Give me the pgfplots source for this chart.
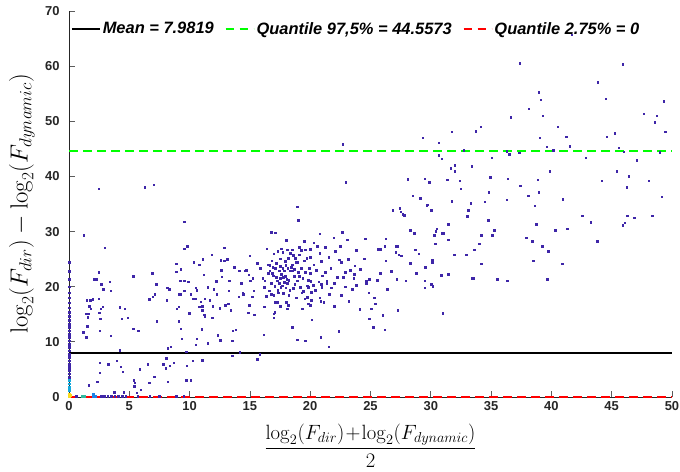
\documentclass[border=0pt]{standalone}
\usepackage[no-math]{fontspec}
\usepackage{amsmath}
\usepackage{pgfplots}
\pgfplotsset{compat=1.18}
\newfontfamily\hv{Liberation Sans}
\definecolor{pts}{RGB}{62,38,168}
\definecolor{axc}{RGB}{38,38,38}
\definecolor{grn}{RGB}{0,255,0}
\definecolor{rd}{RGB}{255,0,0}
\definecolor{pyel}{RGB}{249,220,30}
\definecolor{pcy}{RGB}{20,170,220}
\definecolor{pteal}{RGB}{50,185,160}
\definecolor{plb}{RGB}{30,130,230}
\begin{document}
\begin{tikzpicture}
\path[use as bounding box] (-69bp,-75bp) rectangle (611bp,397bp);
\begin{axis}[
  at={(0,0)}, anchor=south west,
  scale only axis, width=603bp, height=386bp,
  xmin=0, xmax=50, ymin=0, ymax=70,
  clip=false,
  axis x line=bottom, axis y line=left,
  axis line style={-, draw=axc, line width=0.8bp},
  tick style={draw=axc!75, line width=0.8bp},
  major tick length=6bp, tick align=inside,
  xtick={0,5,...,50}, ytick={0,10,...,70},
  /pgf/number format/assume math mode=true,
  tick label style={font=\hv\bfseries\fontsize{13}{15}\selectfont, text=axc},
  yticklabel style={xshift=-6bp},
  xticklabel style={yshift=-1bp},
  xlabel={$\dfrac{\log_2(F_{dir})\!+\!\log_2(F_{dynamic})}{2}$},
  ylabel={$\log_2(F_{dir})-\log_2(F_{dynamic})$},
  xlabel style={at={(axis description cs:0.5,-0.126)}, anchor=center, font=\fontsize{21}{24}\selectfont},
  ylabel style={at={(axis description cs:-0.078,0.5)}, anchor=center, rotate=0, font=\fontsize{27}{30}\selectfont},
  legend columns=3,
  legend style={at={(axis description cs:0,1)}, anchor=north west, draw=none, fill=none,
    font=\hv\bfseries\itshape\fontsize{16.5}{19}\selectfont, inner sep=0pt, xshift=2bp, yshift=-9bp,
    /tikz/every even column/.append style={column sep=9bp}},
  legend image code/.code={\draw[#1] (0bp,0bp) -- (28bp,0bp);},
]
% main scatter
\addplot[only marks, mark=square*, mark size=0.85bp, color=pts, forget plot] coordinates {
(2.46,37.8) (6.27,38.1) (7.02,38.5) (22.69,45.8) (22.94,38.9) (29.32,47.0) (30.65,46.1) (31.73,48.1)
(32.72,44.7) (30.65,43.8) (30.90,43.2) (31.98,42.1) (31.65,41.5) (31.98,40.9) (33.39,41.8) (28.08,39.5)
(29.49,39.6) (29.85,38.9) (31.34,39.4) (32.39,39.2) (32.48,37.8) (28.50,36.5) (29.10,36.0) (29.68,34.9)
(31.73,35.6) (33.31,35.2) (41.68,65.7) (37.37,60.5) (45.91,60.3) (43.84,57.1) (38.94,55.3) (39.11,53.9)
(44.50,54.1) (49.31,53.7) (38.11,52.3) (36.62,50.8) (39.28,51.0) (47.65,51.4) (48.73,51.0) (48.56,49.8)
(33.72,48.2) (34.13,49.0) (40.52,49.0) (49.42,48.1) (39.03,47.0) (41.21,47.2) (44.58,47.2) (45.25,47.8)
(39.61,45.4) (40.13,44.8) (41.51,45.5) (45.58,45.2) (36.29,44.6) (36.48,44.0) (37.34,44.3) (45.99,44.5)
(48.98,44.4) (35.05,43.4) (42.84,43.4) (47.07,43.0) (39.86,40.9) (45.41,40.9) (46.41,40.1) (34.91,39.8)
(36.37,39.6) (38.86,39.4) (44.17,39.2) (48.06,39.2) (37.40,38.3) (46.24,38.0) (34.80,37.1) (38.94,37.2)
(38.06,36.5) (36.29,35.8) (40.93,35.9) (49.14,36.3) (34.47,35.4)
(38.61,34.7) (42.54,32.9) (43.26,31.7) (46.27,32.9) (46.07,31.6) (45.91,31.1) (46.85,32.5) (48.34,32.9)
(34.74,32.1) (35.24,30.3) (34.16,29.4) (35.07,29.3) (34.00,27.8) (33.58,26.7) (38.72,31.4) (40.30,30.3)
(41.29,30.5) (37.89,28.9) (38.39,28.2) (39.22,27.3) (39.72,26.5) (43.78,28.2) (34.16,24.2) (38.47,24.7)
(40.88,24.2) (33.50,21.6) (35.49,21.3) (36.32,21.1) (39.63,21.3)
(18.90,34.5) (18.99,32.0) (16.75,29.9) (17.08,29.8) (19.49,28.3) (20.29,28.0) (20.78,29.6) (20.56,27.4)
(19.98,26.8) (19.60,26.7) (19.24,26.6) (21.23,27.2) (21.94,28.9) (22.64,29.9) (22.47,27.4) (23.05,28.5)
(24.54,28.7) (17.58,26.9) (17.30,26.5) (16.97,26.0) (17.72,26.3) (18.08,26.7) (18.35,26.1) (18.52,26.7)
(18.60,25.7) (18.74,25.2) (17.50,25.1) (18.16,25.2) (18.82,24.4) (16.80,24.7) (16.64,23.9) (17.08,23.3)
(17.52,23.7) (17.72,23.3) (17.96,23.9) (18.13,23.3) (18.41,23.6) (18.66,23.2) (18.90,24.4) (19.26,23.4)
(19.98,25.4) (19.71,25.2) (20.29,24.0) (19.90,23.4) (17.41,22.9) (17.83,22.9) (18.30,22.9) (18.49,22.9)
(18.99,22.6) (19.10,21.9) (19.37,21.6) (16.64,22.9) (16.83,22.5) (16.91,22.0) (17.16,21.7) (17.50,21.6)
(17.74,21.7) (18.05,21.3) (18.21,21.2) (17.94,21.9) (17.25,21.1) (16.78,20.7) (17.41,20.7) (17.83,20.8)
(18.08,20.6) (17.05,20.1) (17.55,19.9) (17.96,19.8) (16.58,19.3) (17.30,19.4) (18.71,20.5) (18.93,21.1)
(18.60,19.7) (19.15,19.9) (19.82,21.2) (20.04,21.0) (19.76,20.2) (19.84,19.9) (20.23,20.3) (20.70,20.9)
(20.92,20.4) (20.95,19.9) (21.36,21.0) (21.36,20.7) (21.72,19.8) (22.22,21.7) (22.72,21.7) (22.88,22.6)
(21.23,22.6) (21.53,25.3) (22.39,24.9) (22.55,24.5) (23.13,25.0) (23.69,23.8) (24.13,23.2) (24.46,25.1)
(23.60,21.6) (23.80,20.3) (23.47,19.6) (24.63,21.0) (24.63,20.7) (24.87,21.4) (25.54,21.2) (22.55,18.5)
(24.85,18.9) (16.75,18.7) (16.97,18.5) (17.33,18.9) (17.74,18.8) (18.21,18.5) (18.82,18.0) (19.29,18.9)
(19.54,17.8) (19.73,18.1) (20.07,19.0) (20.78,18.0) (20.87,17.4) (21.12,17.2) (17.08,17.2) (17.25,17.2)
(17.99,17.2) (18.16,16.7) (17.50,16.5) (19.82,16.9) (19.98,16.7) (19.32,16.0) (18.08,16.0) (17.05,15.4)
(16.97,15.1) (16.97,14.4) (20.12,14.0) (18.49,12.6) (18.90,10.4) (19.57,10.2) (20.87,10.8) (21.53,9.1)
(22.36,11.9) (24.10,15.9) (24.87,14.2) (25.04,16.0) (25.37,16.9) (25.21,12.6) (26.17,12.2)
(17.2,24.3) (17.9,24.6) (18.5,24.0) (19.1,25.8) (19.5,24.7) (20.0,22.4) (20.5,23.0) (20.9,24.6)
(21.0,22.0) (21.7,23.4) (22.0,20.6) (22.9,20.0) (23.3,23.0) (19.6,22.6) (18.7,21.9) (17.6,22.3)
(16.9,23.5) (18.3,19.4) (19.4,19.2) (20.4,19.4) (17.7,20.2) (21.6,18.6) (20.1,17.6) (23.2,17.4)
(22.0,16.5) (19.1,27.2) (20.8,26.1) (22.1,26.5) (23.8,26.6) (18.0,28.4) (16.4,26.9) (16.2,19.9)
(25.8,22.4) (25.3,18.0) (26.4,19.6) (26.7,22.8) (28.3,24.3) (28.8,22.4) (29.0,26.0) (26.0,14.8)
(25.62,26.8) (25.79,26.8) (26.17,27.3) (26.26,28.7) (26.26,24.7) (27.09,27.3) (27.20,27.3) (27.09,26.2)
(27.33,25.8) (27.53,25.6) (28.69,26.7) (28.27,30.3) (28.61,29.7) (26.84,33.9) (27.42,34.3) (27.50,33.6)
(27.67,33.2) (27.78,33.0) (29.66,34.8) (30.02,33.9) (31.73,35.5) (33.08,33.9) (33.00,32.8) (31.43,31.4)
(30.49,30.5) (30.40,30.1) (30.26,29.3) (30.93,29.7) (31.01,29.7) (31.43,28.5) (30.35,27.8) (30.10,24.8)
(30.10,24.5) (29.52,23.5) (31.92,25.8) (32.92,25.8) (31.43,22.3) (30.84,22.1) (29.49,21.1) (30.02,20.5)
(30.15,20.1) (29.49,19.8) (33.44,21.6) (27.17,21.4) (27.92,21.1) (30.98,15.2) (27.25,15.8) (23.66,22.3)
(9.54,31.8) (1.22,29.4) (2.96,27.1) (9.78,27.4) (9.54,26.9) (11.83,25.8) (2.46,22.6) (2.07,21.3)
(2.24,21.4) (2.65,20.4) (3.37,20.9) (2.82,19.6) (3.45,19.3) (5.31,21.9) (6.88,22.4) (7.21,20.4)
(7.10,18.6) (6.94,18.2) (6.63,17.7) (8.13,19.8) (8.32,19.5) (8.10,17.5) (8.87,24.2) (8.87,22.7)
(9.26,23.2) (9.21,21.1) (9.54,21.1) (9.87,20.9) (9.54,19.3) (9.12,18.6) (9.26,18.6) (10.09,18.7)
(10.34,24.4) (10.78,24.0) (11.08,25.0) (11.17,22.2) (10.50,19.8) (10.59,19.4) (10.26,17.8) (10.45,17.8)
(10.92,17.3) (10.81,16.4) (11.03,16.5) (11.25,17.8) (11.50,19.9) (11.66,17.5) (12.00,19.6) (11.91,16.5)
(11.25,14.7) (11.19,14.9) (11.86,14.4) (11.03,15.7) (9.95,15.2) (9.09,16.4) (8.93,16.0) (7.27,13.8)
(9.09,13.8) (9.26,12.4) (9.34,10.6) (10.59,10.6) (10.50,9.5) (11.00,12.3) (11.50,9.7) (12.24,18.6)
(12.58,24.8) (12.85,24.7) (12.61,23.0) (12.66,21.8) (12.19,21.0) (12.49,16.1) (12.33,11.2) (12.52,10.3)
(12.85,27.1) (13.10,25.0) (13.27,21.1) (13.24,19.3) (12.94,16.6) (13.18,16.9) (13.41,15.7) (13.57,12.0)
(13.82,12.2) (13.52,10.2) (13.68,23.6) (14.10,22.9) (14.26,20.7) (14.43,18.6) (14.68,23.0) (14.90,22.2)
(15.01,21.1) (14.98,25.6) (14.57,22.9) (15.23,21.6) (15.59,24.3) (15.84,23.3) (16.06,21.6) (16.22,21.1)
(16.50,24.0) (16.50,22.4) (16.56,19.3) (16.33,18.3) (15.31,19.3) (15.17,18.2) (14.40,18.9) (14.07,18.2)
(14.95,16.6) (14.84,15.3) (15.34,14.9) (16.17,16.4) (16.14,11.3) (15.81,7.7) (15.59,6.8) (14.15,8.1)
(13.52,7.5) (10.26,6.6) (11.06,6.7) (9.76,5.7) (9.70,3.1) (10.09,3.1) (8.68,6.2) (8.35,5.7)
(8.02,5.2) (8.04,7.0) (7.79,6.0) (8.18,2.8) (7.06,3.7) (6.63,2.6) (5.86,5.1) (6.52,5.9)
(8.43,9.1) (8.18,8.8) (9.70,8.2) (4.20,8.5) (3.95,6.6) (3.23,6.0) (4.28,5.5) (4.45,4.6)
(2.54,6.2) (2.54,4.4) (2.32,2.8) (1.63,2.1) (5.36,3.1) (5.44,2.6) (5.39,1.9) (5.94,1.3)
(5.61,0.8) (4.53,0.9) (3.73,0.9) (5.72,12.0) (5.31,12.4) (4.86,14.4) (4.62,16.0) (4.37,14.2)
(4.20,16.3) (3.45,11.1) (2.54,12.0) (2.57,14.2) (2.49,15.3) (2.62,16.0) (2.79,16.4) (1.96,17.7)
(1.74,17.5) (1.46,17.5) (1.80,16.0) (1.57,15.1) (1.38,15.1) (1.55,14.5) (1.49,12.9) (1.16,11.8)
(1.41,10.9) (1.66,16.5) (2.46,17.8)
(2.65,0.1) (2.9,0.1) (3.2,0.1) (3.5,0.1) (3.8,0.2) (4.1,0.1) (4.4,0.1) (4.7,0.2) (5.7,0.1) (6.7,0.1)
(7.5,0.1) (8.9,0.1) (9.5,0.1) (0.6,0.1)
(0,3.6) (0,4.2) (0,4.8) (0,5.4) (0,6.0) (0,6.6) (0,7.2) (0,7.8) (0,8.4) (0,9.0) (0,9.6)
(0,10.2) (0,10.8) (0,11.4) (0,12.0) (0,12.6) (0,13.2) (0,13.9) (0,14.6) (0,15.4) (0,16.2) (0,17.1)
(0,18.0) (0,18.9) (0,20.0) (0,21.3) (0,22.8) (0,24.4)
};
% high density colours near origin
\addplot[only marks, mark=square*, mark size=0.85bp, color=pcy, forget plot] coordinates {(0,1.2) (0,1.8) (0,2.4) (0,3.0)};
\addplot[only marks, mark=square*, mark size=0.85bp, color=plb, forget plot] coordinates {(2.0,0.2) (2.0,0.5) (2.2,0.2)};
\addplot[only marks, mark=square*, mark size=0.85bp, color=pteal, forget plot] coordinates {(1.05,0.1) (1.2,0.1) (1.3,0.1)};
\addplot[only marks, mark=square*, mark size=0.85bp, color=pyel, forget plot] coordinates {(0,0.2) (0,0.6) (0.1,0.3)};
% reference lines
\addplot[black, line width=1.6bp] coordinates {(0,7.9819) (50,7.9819)};
\addlegendentry{Mean = 7.9819}
\addplot[grn, line width=1.8bp, dash pattern=on 8.5bp off 5.5bp] coordinates {(0,44.5573) (50,44.5573)};
\addlegendentry{Quantile 97,5\% = 44.5573}
\addplot[rd, line width=1.8bp, dash pattern=on 8.5bp off 5.5bp] coordinates {(0,0) (50,0)};
\addlegendentry{Quantile 2.75\% = 0}
\end{axis}
\end{tikzpicture}
\end{document}
